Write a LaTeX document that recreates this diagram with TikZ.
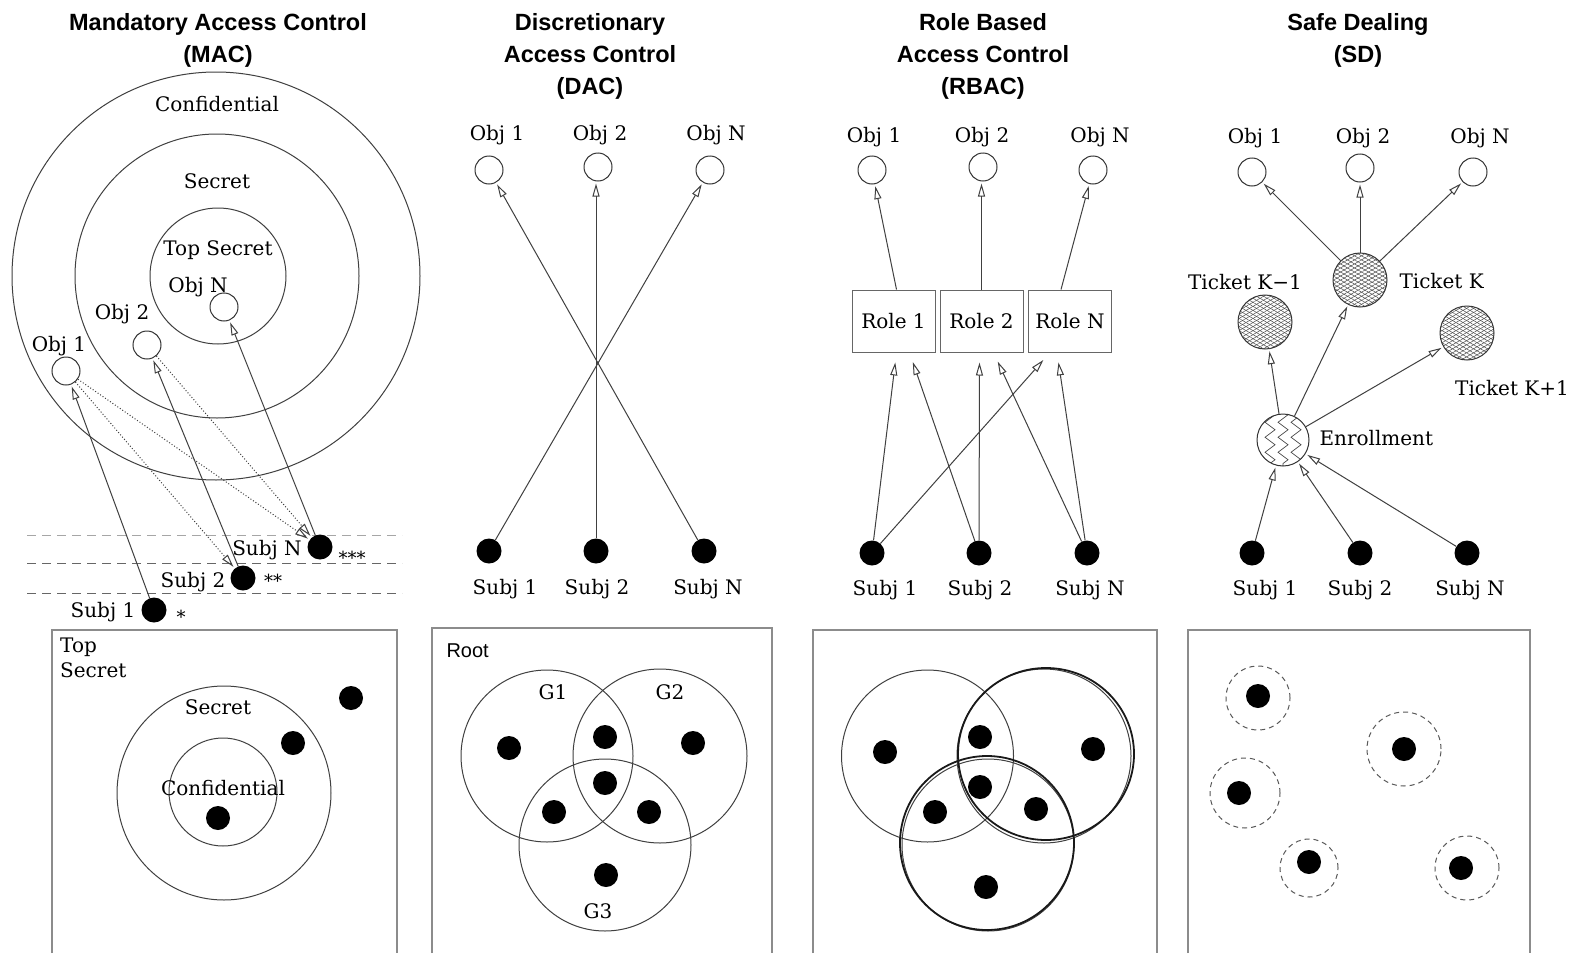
\documentclass[tikz,border=0pt]{standalone}
\usepackage{fontspec}
\setmainfont{DejaVu Serif}
\newfontfamily\tfont{Liberation Sans}
\usetikzlibrary{arrows.meta,patterns.meta,decorations.pathmorphing,calc}
\begin{document}
\begin{tikzpicture}[x=1pt,y=-1pt,
  every node/.style={font=\fontsize{20}{25}\selectfont},
  ttl/.style={font=\tfont\bfseries\fontsize{23.5}{32}\selectfont, align=center, anchor=north, inner sep=0},
  obj/.style={circle, draw=black!80, line width=1pt, minimum size=28pt, inner sep=0},
  subj/.style={circle, fill=black, minimum size=25pt, inner sep=0},
  member/.style={circle, fill=black, minimum size=24pt, inner sep=0},
  arr/.style={draw=black!75, line width=1pt, shorten >=2pt, -{Triangle[open,length=13pt,width=7pt,line width=1pt]}},
  darr/.style={arr, dotted},
  ring/.style={draw=black!75, line width=1pt},
  thickring/.style={draw=black!90, line width=1.8pt},
  bframe/.style={draw=black!45, line width=1.3pt},
  ddash/.style={draw=black!60, line width=1pt, dash pattern=on 9pt off 6pt},
  cdash/.style={draw=black!65, line width=1pt, dash pattern=on 5pt off 4pt},
  rolebox/.style={draw=black!60, line width=1pt, minimum width=83pt, minimum height=62pt, inner sep=0},
  ticket/.style={circle, draw=black!80, line width=1pt, minimum size=54pt, inner sep=0,
    pattern={Lines[angle=30,distance=3.5pt,line width=0.5pt]}, pattern color=black!70,
    postaction={pattern={Lines[angle=-30,distance=3.5pt,line width=0.5pt]}, pattern color=black!70}},
  enroll/.style={circle, draw=black!80, line width=1pt, minimum size=52pt, inner sep=0,
    path picture={\foreach \dx in {-13,0,13} {\draw[black!70, line width=0.7pt, decorate,
      decoration={zigzag, segment length=15pt, amplitude=5pt}]
      ($(path picture bounding box.north)+(\dx,-3)$) -- ($(path picture bounding box.south)+(\dx,3)$);}}},
]
\path[use as bounding box, fill=white] (0,0) rectangle (1574,953);

% ---------- titles
\node[ttl] (tmac) at (218,13) {Mandatory Access Control\\(MAC)};
\node[ttl] (tdac) at (590,13) {Discretionary\\Access Control\\(DAC)};
\node[ttl] (trbac) at (983,13) {Role Based\\Access Control\\(RBAC)};
\node[ttl] (tsd) at (1358,13) {Safe Dealing\\(SD)};

% ---------- MAC top
\draw[ring] (216,276) circle (204pt);
\draw[ring] (217,276) circle (142pt);
\draw[ring] (218,276) circle (68pt);
\node (lconf) at (217,104) {Confidential};
\node (lsec) at (217,181) {Secret};
\node (ltop) at (218,250) {Top Secret};
\node[obj] (m1) at (66,371) {};
\node[obj] (m2) at (147,345) {};
\node[obj] (mN) at (224,307) {};
\node (lm1) at (59,346) {Obj 1};
\node (lm2) at (122,314) {Obj 2};
\node (lmN) at (198,287) {Obj N};
\draw[ddash, draw=black!35] (27,535) -- (402,535);
\draw[ddash] (27,563) -- (402,563);
\draw[ddash] (27,593) -- (402,593);
\node[subj] (ms1) at (154,610) {};
\node[subj] (ms2) at (243,578) {};
\node[subj] (msN) at (320,547) {};
\node (lms1) at (103,612) {Subj 1};
\node (lms2) at (193,582) {Subj 2};
\node (lmsN) at (267,550) {Subj N};
\node[font=\fontsize{18}{18}\selectfont] (st1) at (181,617) {*};
\node[font=\fontsize{18}{18}\selectfont] (st2) at (273,581) {**};
\node[font=\fontsize{18}{18}\selectfont] (st3) at (352,558) {***};
\draw[arr] (ms1) -- (m1);
\draw[arr] (ms2) -- (m2);
\draw[arr] (msN) -- (mN);
\draw[darr] (m1) -- (ms2);
\draw[darr] (m1) -- (msN);
\draw[darr] (m2) -- (msN);

% ---------- MAC bottom
\draw[bframe] (52,953) -- (52,630) -- (397,630) -- (397,953);
\node[align=left, anchor=north west, inner sep=0] (ltsb) at (60,638) {Top\\Secret};
\draw[ring] (224,793) circle (107pt);
\draw[ring] (223,792) circle (54pt);
\node (lsb) at (218,707) {Secret};
\node (lcb) at (223,788) {Confidential};
\node[member] (mb1) at (351,698) {};
\node[member] (mb2) at (293,743) {};
\node[member] (mb3) at (218,818) {};

% ---------- DAC top
\node[obj] (d1) at (489,170) {};
\node[obj] (d2) at (598,167) {};
\node[obj] (dN) at (710,170) {};
\node (ld1) at (497,135) {Obj 1};
\node (ld2) at (600,135) {Obj 2};
\node (ldN) at (716,135) {Obj N};
\node[subj] (ds1) at (489,551) {};
\node[subj] (ds2) at (596,551) {};
\node[subj] (dsN) at (704,551) {};
\node (lds1) at (505,589) {Subj 1};
\node (lds2) at (597,589) {Subj 2};
\node (ldsN) at (708,589) {Subj N};
\draw[arr] (ds1) -- (dN);
\draw[arr] (ds2) -- (ds2 |- d2.south);
\draw[arr] (dsN) -- (d1);

% ---------- DAC bottom
\draw[bframe] (432,953) -- (432,628) -- (772,628) -- (772,953);
\node[anchor=west, font=\tfont\fontsize{20}{24}\selectfont] (lroot) at (443,651) {Root};
\draw[ring] (547,756) circle (86pt);
\draw[ring] (660,756) circle (87pt);
\draw[ring] (605,845) circle (86pt);
\node (lg1) at (553,692) {G1};
\node (lg2) at (670,692) {G2};
\node (lg3) at (598,911) {G3};
\foreach \p [count=\i] in {(509,748),(605,737),(693,743),(605,783),(554,812),(649,812),(606,875)}
  \node[member] (dm\i) at \p {};

% ---------- RBAC top
\node[obj] (ro1) at (872,170) {};
\node[obj] (ro2) at (983,167) {};
\node[obj] (roN) at (1093,170) {};
\node (lro1) at (874,137) {Obj 1};
\node (lro2) at (982,137) {Obj 2};
\node (lroN) at (1100,137) {Obj N};
\node[rolebox] (r1) at (893.5,321) {Role 1};
\node[rolebox] (r2) at (981.5,321) {Role 2};
\node[rolebox] (rN) at (1070,321) {Role N};
\draw[arr] ($(r1.north)+(3,0)$) -- (ro1);
\draw[arr] (r2.north) -- (r2.north |- ro2.south);
\draw[arr] ($(rN.north)+(-9,0)$) -- (roN);
\node[subj] (rs1) at (872,553) {};
\node[subj] (rs2) at (979,553) {};
\node[subj] (rsN) at (1087,553) {};
\node (lrs1) at (885,590) {Subj 1};
\node (lrs2) at (980,590) {Subj 2};
\node (lrsN) at (1090,590) {Subj N};
\draw[arr, shorten >=10pt] (rs1) -- ($(r1.south)+(3,0)$);
\draw[arr, shorten >=10pt] (rs2) -- ($(r1.south)+(16,0)$);
\draw[arr, shorten >=10pt] (rs2) -- ($(r2.south)+(-2,0)$);
\draw[arr, shorten >=10pt] (rsN) -- ($(r2.south)+(12,0)$);
\draw[arr, shorten >=10pt] (rs1) -- ($(rN.south)+(-20,0)$);
\draw[arr, shorten >=10pt] (rsN) -- ($(rN.south)+(-13,0)$);

% ---------- RBAC bottom
\draw[bframe] (813,953) -- (813,630) -- (1157,630) -- (1157,953);
\draw[ring] (927.5,756) circle (86pt);
\draw[ring] (1044,756) circle (87pt);
\draw[ring] (988,845) circle (86pt);
\draw[thickring] (1046,754) ellipse (88pt and 86pt);
\draw[thickring] (987,843) ellipse (87pt and 87pt);
\foreach \p [count=\i] in {(885,752),(980,737),(1093,749),(980,787),(935,812),(1036,809),(986,887)}
  \node[member] (rm\i) at \p {};

% ---------- SD top
\node[obj] (so1) at (1252,172) {};
\node[obj] (so2) at (1360,168) {};
\node[obj] (soN) at (1473,172) {};
\node (lso1) at (1255,138) {Obj 1};
\node (lso2) at (1363,138) {Obj 2};
\node (lsoN) at (1480,138) {Obj N};
\node[ticket] (tk) at (1360,280) {};
\node[ticket] (tkm) at (1265,322) {};
\node[ticket] (tkp) at (1467,333) {};
\node[anchor=west] (ltk) at (1396,281) {Ticket K};
\node (ltkm) at (1245,282) {Ticket K−1};
\node (ltkp) at (1512,388) {Ticket K+1};
\node[enroll] (enr) at (1283,440) {};
\node[anchor=west] (lenr) at (1316,438) {Enrollment};
\node[subj] (ss1) at (1252,553) {};
\node[subj] (ss2) at (1360,553) {};
\node[subj] (ssN) at (1467,553) {};
\node (lss1) at (1265,590) {Subj 1};
\node (lss2) at (1360,590) {Subj 2};
\node (lssN) at (1470,590) {Subj N};
\draw[arr] (tk) -- (so1);
\draw[arr] (tk) -- (so2);
\draw[arr] (tk) -- (soN);
\draw[arr] (enr) -- (tkm);
\draw[arr] (enr) -- (tk);
\draw[arr] (enr) -- (tkp);
\draw[arr] (ss1) -- (enr);
\draw[arr] (ss2) -- (enr);
\draw[arr] (ssN) -- (enr);

% ---------- SD bottom
\draw[bframe] (1188,953) -- (1188,630) -- (1530,630) -- (1530,953);
\draw[cdash] (1258,698) circle (32pt);
\draw[cdash] (1404,749) circle (37pt);
\draw[cdash] (1245,793) circle (35pt);
\draw[cdash] (1309,868) circle (29pt);
\draw[cdash] (1467,868) circle (32pt);
\node[member] (sm1) at (1258,696) {};
\node[member] (sm2) at (1404,749) {};
\node[member] (sm3) at (1239,793) {};
\node[member] (sm4) at (1309,862) {};
\node[member] (sm5) at (1461,868) {};
\end{tikzpicture}
\end{document}
